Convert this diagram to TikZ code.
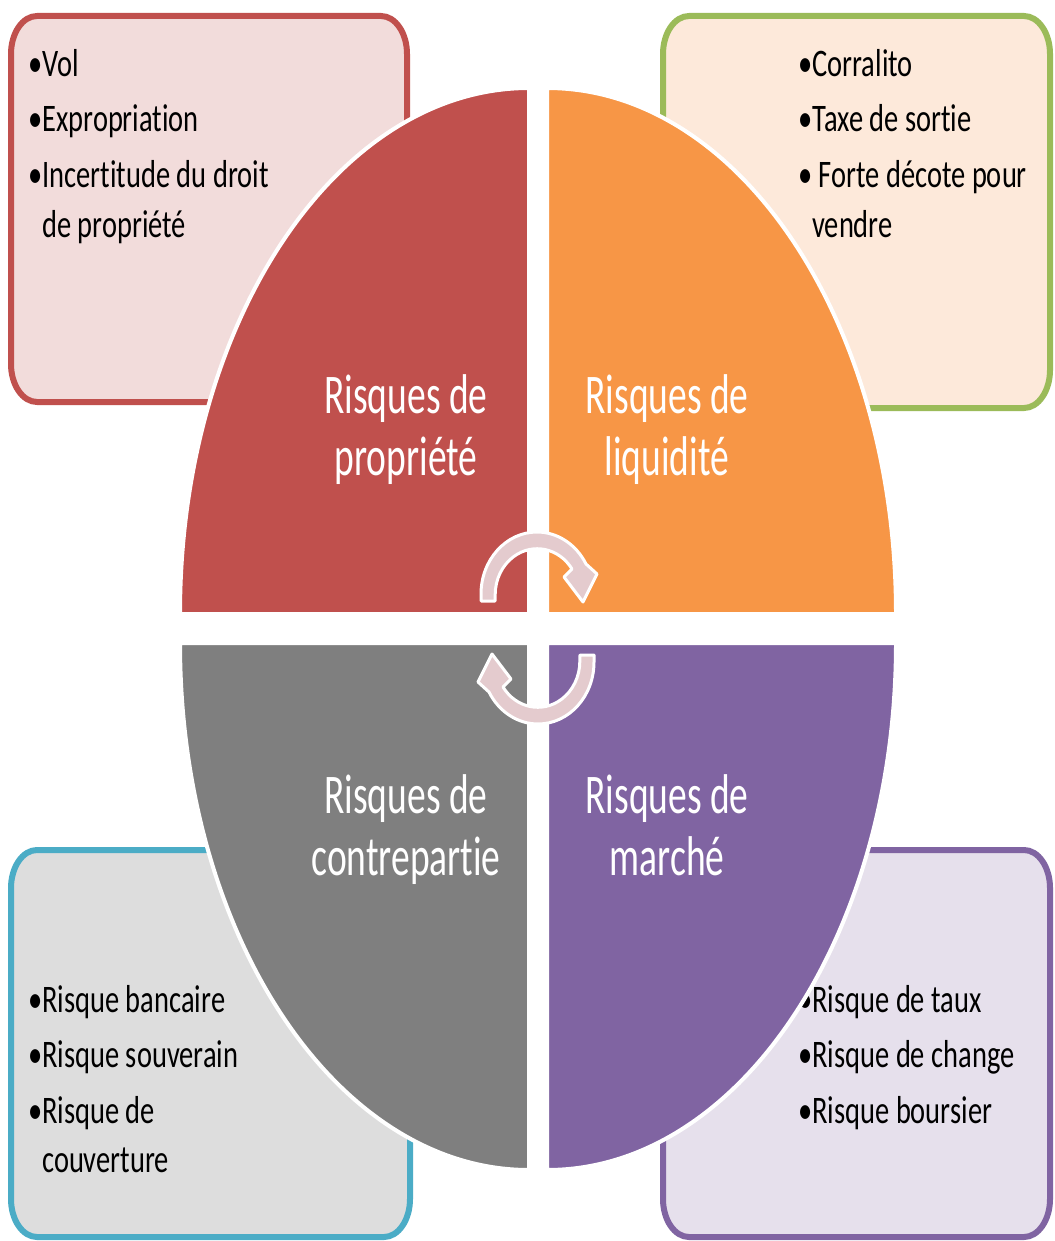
\documentclass[tikz,border=0pt]{standalone}
\usepackage{fontspec}
\setmainfont{Carlito}[FakeStretch=0.67,Ligatures=CommonOff]
\newfontfamily\listfont{Carlito}[FakeStretch=0.73,Ligatures=CommonOff]
\definecolor{tlfill}{HTML}{F2DCDB}
\definecolor{tlline}{HTML}{C0504D}
\definecolor{trfill}{HTML}{FDE9DA}
\definecolor{trline}{HTML}{9BBB59}
\definecolor{blfill}{HTML}{DDDDDD}
\definecolor{blline}{HTML}{4BACC6}
\definecolor{brfill}{HTML}{E6E0EC}
\definecolor{brline}{HTML}{8064A2}
\definecolor{qtl}{HTML}{C0504D}
\definecolor{qtr}{HTML}{F79646}
\definecolor{qbl}{HTML}{7F7F7F}
\definecolor{qbr}{HTML}{8064A2}
\definecolor{arrowpink}{HTML}{E4CBCE}
\newcommand\rbox[6]{%
  \filldraw[boxline, draw=#5, fill=#6]
    ({#1+26},#2) -- ({#3-26},#2)
    arc[start angle=90,end angle=0,x radius=26pt,y radius=38pt]
    -- (#3,{#4-38})
    arc[start angle=0,end angle=-90,x radius=26pt,y radius=38pt]
    -- ({#1+26},#4)
    arc[start angle=270,end angle=180,x radius=26pt,y radius=38pt]
    -- (#1,{#2+38})
    arc[start angle=180,end angle=90,x radius=26pt,y radius=38pt]
    -- cycle;}
\begin{document}
\begin{tikzpicture}[x=1pt,y=-1pt,
  boxline/.style={line width=6pt},
  quad/.style={draw=white, line width=4pt},
  item/.style={anchor=base west, inner sep=0pt, font=\listfont\fontsize{39}{47}\selectfont, text=black},
  lab/.style={anchor=base, inner sep=0pt, font=\fontsize{56}{62}\selectfont, text=white},
  arr/.style={fill=arrowpink, draw=white, line width=3pt, line join=round}]
\fill[white] (0,0) rectangle (1054,1241);
\useasboundingbox (0,0) rectangle (1054,1241);

% boxes
\rbox{11}{16}{407}{402}{tlline}{tlfill}
\rbox{663}{16}{1050}{408}{trline}{trfill}
\rbox{11}{850}{410}{1237}{blline}{blfill}
\rbox{663}{850}{1050}{1237}{brline}{brfill}

% box texts
\node[item] (tl1) at (28,77) {•Vol};
\node[item] (tl2) at (28,132) {•Expropriation};
\node[item] (tl3) at (28,188) {•Incertitude du droit};
\node[item] (tl4) at (42,238) {de propriété};

\node[item] (tr1) at (798,77) {•Corralito};
\node[item] (tr2) at (798,132) {•Taxe de sortie};
\node[item] (tr3) at (798,188) {• Forte décote pour};
\node[item] (tr4) at (812,238) {vendre};

\node[item] (bl1) at (28,1012) {•Risque bancaire};
\node[item] (bl2) at (28,1067) {•Risque souverain};
\node[item] (bl3) at (28,1123) {•Risque de};
\node[item] (bl4) at (42,1172) {couverture};

\node[item] (br1) at (798,1012) {•Risque de taux};
\node[item] (br2) at (798,1067) {•Risque de change};
\node[item] (br3) at (798,1123) {•Risque boursier};

% quadrants
\filldraw[quad, fill=qtl] (529,614) -- (180,614)
  arc[start angle=180,end angle=90,x radius=349pt,y radius=526pt] -- cycle;
\filldraw[quad, fill=qtr] (547,614) -- (547,88)
  arc[start angle=90,end angle=0,x radius=349pt,y radius=526pt] -- cycle;
\filldraw[quad, fill=qbl] (529,643) -- (180,643)
  arc[start angle=180,end angle=270,x radius=349pt,y radius=527pt] -- cycle;
\filldraw[quad, fill=qbr] (547,643) -- (896,643)
  arc[start angle=0,end angle=-90,x radius=349pt,y radius=527pt] -- cycle;

% quadrant labels
\node[lab] (q1a) at (406,413) {Risques de};
\node[lab] (q1b) at (406,475) {propriété};
\node[lab] (q2a) at (667,413) {Risques de};
\node[lab] (q2b) at (667,475) {liquidité};
\node[lab] (q3a) at (406,813) {Risques de};
\node[lab] (q3b) at (406,875) {contrepartie};
\node[lab] (q4a) at (667,813) {Risques de};
\node[lab] (q4b) at (667,875) {marché};

% circular arrows
\filldraw[arr] (481,601) -- (481,594)
  arc[start angle=180,end angle=29,x radius=56pt,y radius=62pt]
  -- (597,574) -- (583,602) -- (564,577) -- (572,569)
  arc[start angle=34,end angle=180,x radius=42pt,y radius=46pt]
  -- (495,601) -- cycle;
\begin{scope}[rotate around={180:(537.5,628)}]
\filldraw[arr] (481,601) -- (481,594)
  arc[start angle=180,end angle=29,x radius=56pt,y radius=62pt]
  -- (597,574) -- (583,602) -- (564,577) -- (572,569)
  arc[start angle=34,end angle=180,x radius=42pt,y radius=46pt]
  -- (495,601) -- cycle;
\end{scope}
\end{tikzpicture}
\end{document}
